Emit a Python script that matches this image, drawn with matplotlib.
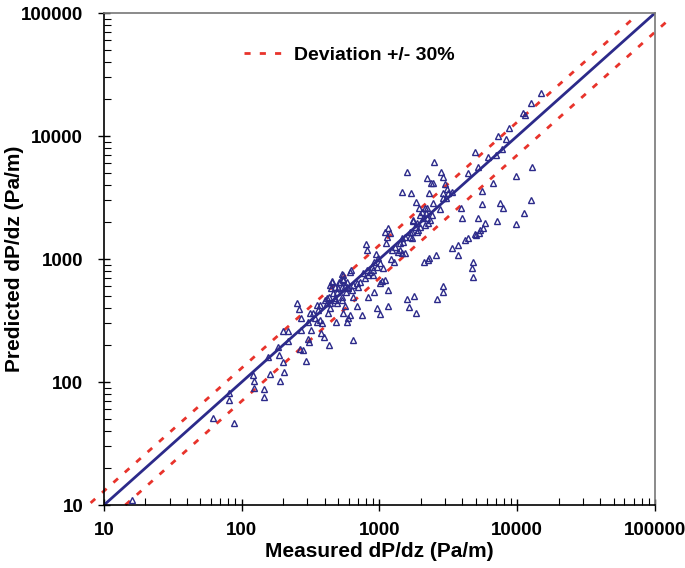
import numpy as np
import matplotlib.pyplot as plt
from matplotlib.ticker import LogLocator, NullFormatter, FixedLocator

plt.rcParams['font.family'] = ['Liberation Sans', 'DejaVu Sans']
plt.rcParams['font.weight'] = 'bold'

# measured vs predicted pressure gradient (Pa/m)
measured = [16, 62, 81, 81, 88, 121, 123, 123, 145, 145, 160, 155, 183, 186, 199, 203, 190,
            199, 217, 217, 265, 278, 293, 303, 308, 252, 260, 269, 269, 303, 318, 313, 329,
            352, 370, 358, 340, 352, 370, 382, 376, 396, 430, 483, 423, 437, 416, 430, 445,
            460, 475, 491, 517, 543, 581, 534, 571, 581, 611, 543, 543, 581, 591, 491, 416,
            452, 1840, 1940, 2030, 1970, 2070, 2180, 2210, 1750, 1810, 1870, 1970, 2140, 2250,
            1670, 1670, 1150, 1100, 1190, 1130, 1115, 800, 811, 1460, 1410, 1300, 1230, 1360,
            1460, 1530, 1720, 1270, 1210, 1060, 943, 975, 912, 1010, 959, 882, 897, 853, 811,
            759, 825, 897, 785, 621, 534, 543, 508, 452, 437, 475, 500, 534, 562, 591, 631,
            642, 686, 722, 698, 1040, 1010, 1100, 1150, 825, 642, 534, 402, 437, 475, 562, 686,
            959, 1150, 1580, 1780, 1640, 2100, 2250, 1580, 2210, 1460, 1690, 912, 1010, 746,
            1840, 642, 611, 2490, 2370, 2450, 2800, 2890, 2290, 2990, 3090, 2890, 3140, 3360,
            2890, 3040, 2450, 2750, 2140, 2400, 2210, 2330, 1750, 1870, 1900, 1720, 1530, 1480,
            1410, 3900, 3970, 5190, 5550, 5550, 6670, 4390, 4930, 6130, 7010, 7490, 7880, 7130,
            5830, 5640, 5370, 5020, 4390, 4175, 3710, 3360, 3710, 2570, 2290, 4770, 4690, 4770,
            2890, 2890, 2615, 14900, 12600, 11000, 11400, 8710, 7250, 8290, 7750, 5190, 12800,
            9790, 12600, 11200, 9790, 5280, 4930]
predicted = [11, 51, 81, 71, 46, 114, 102, 89, 88, 76, 116, 160, 193, 166, 145, 121, 102,
             260, 260, 215, 186, 182, 148, 224, 212, 439, 392, 331, 265, 308, 265, 364, 364,
             423, 423, 385, 331, 308, 319, 302, 250, 232, 200, 308, 364, 400, 439, 491, 581,
             529, 464, 539, 650, 675, 650, 491, 539, 592, 784, 741, 364, 308, 331, 439, 482,
             650, 2910, 2600, 2410, 2280, 2150, 2370, 2600, 2040, 1820, 1660, 1820, 1890, 1960,
             1510, 1660, 1790, 1660, 1630, 1510, 1350, 1320, 1180, 1480, 1350, 1250, 1180, 1140,
             1120, 1120, 1480, 945, 1000, 845, 1100, 1020, 945, 928, 861, 861, 814, 784, 814,
             769, 741, 741, 700, 814, 755, 688, 650, 662, 615, 592, 581, 592, 603, 581, 560,
             615, 638, 650, 592, 662, 638, 675, 560, 491, 491, 464, 464, 439, 482, 415, 415,
             400, 415, 473, 500, 407, 945, 982, 5100, 4560, 3500, 3440, 539, 357, 350,
             364, 220, 350, 6150, 4150, 4150, 5100, 4640, 3440, 4070, 3710, 3440, 3440, 3500,
             3130, 3130, 2850, 2550, 2600, 2280, 2150, 2080, 2080, 1960, 1720, 1660, 1510, 1375,
             1180, 2600, 2150, 2150, 2800, 3570, 4150, 5000, 7410, 6750, 7000, 2850, 2600, 2040,
             1960, 1790, 1720, 1570, 1480, 1430, 1300, 1230, 1080, 1080, 1020, 945, 845, 714,
             603, 539, 473, 22400, 18500, 15400, 14800, 11600, 10000, 9450, 7840, 5600, 5600,
             4730, 3020, 2370, 1930, 1630, 1600]

line_x = [10, 100000]
upper_x = [8, 70000]
lower_x = [14.3, 120000]
deviation = 0.30

navy = '#2c2a8a'
red = '#e8332b'

fig = plt.figure(figsize=(6.85, 5.68), dpi=100)
ax = fig.add_axes([0.1518, 0.1109, 0.8044, 0.8662])

ax.plot(measured, predicted, linestyle='none', marker='^', markersize=5,
        markerfacecolor='none', markeredgecolor=navy, markeredgewidth=1.0, zorder=3)
ax.plot(line_x, line_x, color=navy, lw=2, zorder=2)
ax.plot(upper_x, [v * (1 + deviation) for v in upper_x], color=red, lw=2,
        dashes=(2.2, 3.3), clip_on=False, label='Deviation +/- 30%')
ax.plot(lower_x, [v * (1 - deviation) for v in lower_x], color=red, lw=2,
        dashes=(2.2, 3.3), clip_on=False)

ax.set_xscale('log')
ax.set_yscale('log')
ax.set_xlim(10, 100000)
ax.set_ylim(10, 100000)

for a in (ax.xaxis, ax.yaxis):
    a.set_major_locator(FixedLocator([10, 100, 1000, 10000, 100000]))
    a.set_minor_locator(LogLocator(base=10, subs=np.arange(2, 10)))
    a.set_minor_formatter(NullFormatter())
ax.set_xticklabels(['10', '100', '1000', '10000', '100000'])
ax.set_yticklabels(['10', '100', '1000', '10000', '100000'])

ax.tick_params(which='major', direction='inout', length=8, width=1, labelsize=13.5)
ax.tick_params(which='minor', direction='in', length=5, width=0.8)
ax.tick_params(axis='x', which='major', pad=8)
ax.tick_params(axis='y', which='major', pad=11)

for side in ('top', 'right'):
    ax.spines[side].set_color('#777777')
    ax.spines[side].set_linewidth(1.2)
for side in ('left', 'bottom'):
    ax.spines[side].set_linewidth(1.2)

ax.set_xlabel('Measured dP/dz (Pa/m)', fontsize=15, fontweight='bold')
ax.set_ylabel('Predicted dP/dz (Pa/m)', fontsize=15, fontweight='bold')
ax.xaxis.set_label_coords(0.5, -0.075)
ax.yaxis.set_label_coords(-0.146, 0.5)

ax.legend(loc='center', bbox_to_anchor=(0.445, 0.915), frameon=False,
          handlelength=2.2, handletextpad=0.4, prop={'size': 14, 'weight': 'bold'})

fig.savefig('out.png', dpi=100)
